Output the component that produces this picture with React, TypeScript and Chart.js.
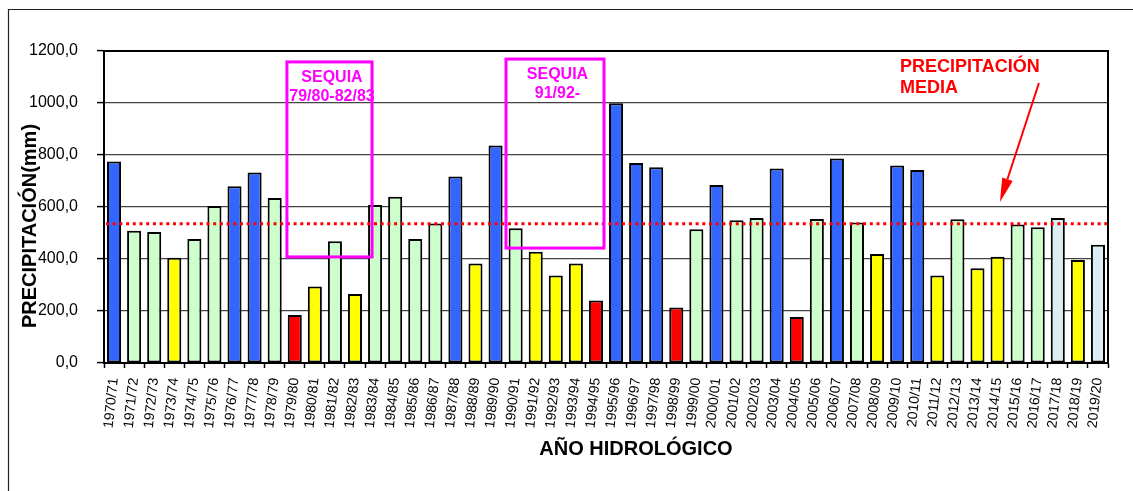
import React, { useEffect, useRef } from 'react';
import { Chart, registerables } from 'chart.js';

Chart.register(...registerables);

const YEARS = [
  '1970/71', '1971/72', '1972/73', '1973/74', '1974/75', '1975/76', '1976/77', '1977/78', '1978/79', '1979/80',
  '1980/81', '1981/82', '1982/83', '1983/84', '1984/85', '1985/86', '1986/87', '1987/88', '1988/89', '1989/90',
  '1990/91', '1991/92', '1992/93', '1993/94', '1994/95', '1995/96', '1996/97', '1997/98', '1998/99', '1999/00',
  '2000/01', '2001/02', '2002/03', '2003/04', '2004/05', '2005/06', '2006/07', '2007/08', '2008/09', '2009/10',
  '2010/11', '2011/12', '2012/13', '2013/14', '2014/15', '2015/16', '2016/17', '2017/18', '2018/19', '2019/20',
];

const PRECIP = [
  775, 509, 504, 405, 477, 604, 680, 733, 635, 185,
  294, 468, 265, 608, 639, 477, 537, 717, 383, 837,
  518, 428, 337, 383, 240, 999, 769, 753, 213, 514,
  685, 549, 558, 748, 177, 554, 787, 540, 419, 760,
  742, 337, 553, 364, 409, 533, 522, 558, 396, 455,
];

// B = muy húmedo, G = normal, Y = seco, R = muy seco, L = sin clasificar
const CLASSES = [
  'B', 'G', 'G', 'Y', 'G', 'G', 'B', 'B', 'G', 'R',
  'Y', 'G', 'Y', 'G', 'G', 'G', 'G', 'B', 'Y', 'B',
  'G', 'Y', 'Y', 'Y', 'R', 'B', 'B', 'B', 'R', 'G',
  'B', 'G', 'G', 'B', 'R', 'G', 'B', 'G', 'Y', 'B',
  'B', 'Y', 'G', 'Y', 'Y', 'G', 'G', 'L', 'Y', 'L',
];

const CLASS_COLORS: Record<string, string> = {
  B: '#3366FF',
  G: '#CCFFCC',
  Y: '#FFFF00',
  R: '#FF0000',
  L: '#DAEEF3',
};

const MEAN = 536;
const Y_TICKS = [0, 200, 400, 600, 800, 1000, 1200];

// Drought boxes, in category-index / value units
const DROUGHTS = [
  { x0: 8.61, x1: 12.85, y0: 408, y1: 1158, lines: ['SEQUIA', '79/80-82/83'] },
  { x0: 19.52, x1: 24.4, y0: 442, y1: 1169, lines: ['SEQUIA', '91/92-'] },
];

const MEAN_LABEL = ['PRECIPITACIÓN', 'MEDIA'];
const MEAN_LABEL_POS = { x: 39.14, y: 1138, y2: 1058 };
const ARROW = { x0: 46.06, y0: 1077, x1: 44.12, y1: 619 };

const FONT = "'Liberation Sans', Arial, Helvetica, sans-serif";

const overlayPlugin = {
  id: 'overlay',
  beforeDraw(chart: any) {
    const ctx = chart.ctx;
    ctx.save();
    ctx.fillStyle = '#ffffff';
    ctx.fillRect(0, 0, chart.width, chart.height);
    ctx.strokeStyle = '#222';
    ctx.lineWidth = 1.2;
    ctx.beginPath();
    ctx.moveTo(8.5, chart.height);
    ctx.lineTo(8.5, 9.5);
    ctx.lineTo(chart.width, 9.5);
    ctx.stroke();
    ctx.restore();
  },
  afterDatasetsDraw(chart: any) {
    const ctx = chart.ctx;
    const xs = chart.scales.x;
    const ys = chart.scales.y;
    const a = chart.chartArea;
    ctx.save();

    // mean line
    const my = ys.getPixelForValue(MEAN);
    ctx.strokeStyle = '#FF0000';
    ctx.lineWidth = 3;
    ctx.setLineDash([3, 3.7]);
    ctx.beginPath();
    ctx.moveTo(a.left + 2, my);
    ctx.lineTo(a.right, my);
    ctx.stroke();
    ctx.setLineDash([]);

    // plot border
    ctx.strokeStyle = '#000';
    ctx.lineWidth = 2;
    ctx.strokeRect(a.left, a.top, a.right - a.left, a.bottom - a.top);

    // drought boxes
    ctx.font = `bold 16px ${FONT}`;
    ctx.textAlign = 'center';
    ctx.textBaseline = 'middle';
    DROUGHTS.forEach((d) => {
      const l = xs.getPixelForValue(d.x0);
      const r = xs.getPixelForValue(d.x1);
      const t = ys.getPixelForValue(d.y1);
      const b = ys.getPixelForValue(d.y0);
      ctx.strokeStyle = '#FF00FF';
      ctx.lineWidth = 3;
      ctx.strokeRect(l, t, r - l, b - t);
      ctx.fillStyle = '#FF00FF';
      const cx = (l + r) / 2 + 2.5;
      ctx.fillText(d.lines[0], cx, t + 16);
      ctx.fillText(d.lines[1], cx, t + 35);
    });

    // mean label
    ctx.fillStyle = '#FF0000';
    ctx.font = `bold 18px ${FONT}`;
    ctx.textAlign = 'left';
    const lx = xs.getPixelForValue(MEAN_LABEL_POS.x);
    ctx.fillText(MEAN_LABEL[0], lx, ys.getPixelForValue(MEAN_LABEL_POS.y));
    ctx.fillText(MEAN_LABEL[1], lx, ys.getPixelForValue(MEAN_LABEL_POS.y2));

    // arrow
    const ax0 = xs.getPixelForValue(ARROW.x0);
    const ay0 = ys.getPixelForValue(ARROW.y0);
    const ax1 = xs.getPixelForValue(ARROW.x1);
    const ay1 = ys.getPixelForValue(ARROW.y1);
    const ang = Math.atan2(ay1 - ay0, ax1 - ax0);
    const headLen = 24;
    const headW = 5.5;
    const bx = ax1 - headLen * Math.cos(ang);
    const by = ay1 - headLen * Math.sin(ang);
    ctx.strokeStyle = '#FF0000';
    ctx.lineWidth = 2;
    ctx.beginPath();
    ctx.moveTo(ax0, ay0);
    ctx.lineTo(bx, by);
    ctx.stroke();
    ctx.beginPath();
    ctx.moveTo(ax1, ay1);
    ctx.lineTo(bx + headW * Math.sin(ang), by - headW * Math.cos(ang));
    ctx.lineTo(bx - headW * Math.sin(ang), by + headW * Math.cos(ang));
    ctx.closePath();
    ctx.fillStyle = '#FF0000';
    ctx.fill();

    // axis titles
    ctx.fillStyle = '#000';
    ctx.font = `bold 20px ${FONT}`;
    ctx.textAlign = 'center';
    ctx.textBaseline = 'middle';
    ctx.fillText('AÑO HIDROLÓGICO', (a.left + a.right) / 2 + 30, a.bottom + 86);
    ctx.translate(a.left - 74, (a.top + a.bottom) / 2 + 19);
    ctx.rotate(-Math.PI / 2);
    ctx.fillText('PRECIPITACIÓN(mm)', 0, 0);

    ctx.restore();
  },
};

export default function App() {
  const ref = useRef<HTMLCanvasElement | null>(null);

  useEffect(() => {
    if (!ref.current) return;
    const chart = new Chart(ref.current, {
      type: 'bar',
      data: {
        labels: YEARS,
        datasets: [
          {
            data: PRECIP,
            backgroundColor: CLASSES.map((c) => CLASS_COLORS[c]),
            borderColor: '#000000',
            borderWidth: 2,
            borderSkipped: false,
            categoryPercentage: 1,
            barPercentage: 0.7,
          },
        ],
      },
      options: {
        responsive: false,
        animation: false,
        devicePixelRatio: 1,
        layout: { padding: { left: 0, top: 51, right: 25, bottom: 0 } },
        plugins: {
          legend: { display: false },
          tooltip: { enabled: false },
          title: { display: false },
        },
        scales: {
          x: {
            type: 'category',
            offset: true,
            grid: {
              display: true,
              offset: true,
              drawOnChartArea: false,
              drawTicks: true,
              tickLength: 5,
              tickColor: '#000',
              tickWidth: 1.5,
            },
            border: { display: true, color: '#000', width: 2 },
            ticks: {
              autoSkip: false,
              minRotation: 84,
              maxRotation: 84,
              padding: 9,
              color: '#000',
              font: { family: FONT, size: 14 },
            },
            afterFit: (s: any) => {
              s.height = 128;
            },
          },
          y: {
            min: 0,
            max: 1200,
            grid: {
              color: '#444',
              lineWidth: 1.2,
              drawTicks: true,
              tickLength: 7,
              tickColor: '#000',
              tickWidth: 1.5,
            },
            border: { display: true, color: '#000', width: 2 },
            afterBuildTicks: (s: any) => {
              s.ticks = Y_TICKS.map((v) => ({ value: v }));
            },
            ticks: {
              padding: 19,
              color: '#000',
              font: { family: FONT, size: 16 },
              callback: (v: any) => Number(v).toFixed(1).replace('.', ','),
            },
            afterFit: (s: any) => {
              s.width = 104;
            },
          },
        },
      },
      plugins: [overlayPlugin],
    });
    return () => chart.destroy();
  }, []);

  return (
    <div style={{ position: 'absolute', left: 0, top: 0, width: 1133, height: 491 }}>
      <canvas ref={ref} width={1133} height={491} style={{ display: 'block', width: 1133, height: 491 }} />
    </div>
  );
}
